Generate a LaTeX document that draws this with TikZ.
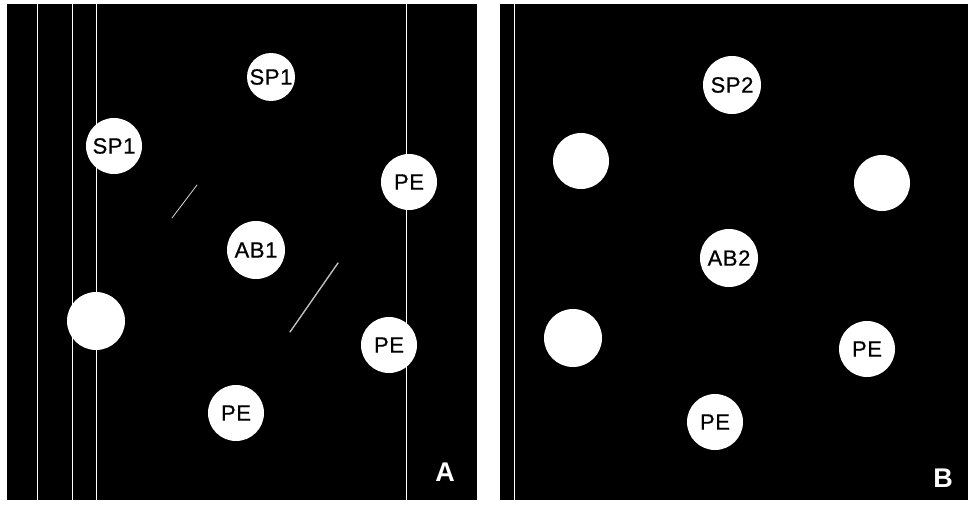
\documentclass[tikz,border=0pt]{standalone}
\usepackage{fontspec}
\setmainfont{Liberation Sans}
\newfontfamily\wellfont[FakeBold=0.6]{Liberation Sans}
% slight tracking for the well labels
\newcommand{\lsp}{\kern0.6pt}
\begin{document}
\begin{tikzpicture}[x=1pt,y=-1pt,
  well/.style={circle,fill=white,draw=none,inner sep=0pt,minimum size=#1,
    font=\wellfont\fontsize{22}{22}\selectfont,text=black},
  well/.default=56pt,
  tag/.style={font=\bfseries\fontsize{27}{27}\selectfont,text=white},
  scratch/.style={white,line width=0.6pt},
  streak/.style={gray!50,line width=1.4pt,line cap=round}]
  % page
  \fill[white] (0,0) rectangle (968,505);
  \useasboundingbox (0,0) rectangle (968,505);
  % plates
  \fill[black] (7,4) rectangle (477,500);
  \fill[black] (500,4) rectangle (968,500);
  % scratches on the film
  \foreach \xx in {37,72,96,406} \draw[scratch] (\xx,4) -- (\xx,500);
  \draw[scratch] (514,4) -- (514,500);
  % faint precipitin streaks
  \draw[streak] (290,332) -- (338,263);
  \draw[gray!30,line width=0.8pt,line cap=round] (172,218) -- (197,185);
  % plate A wells
  \node[well=48pt] (a1) at (271,77) {S\lsp P\lsp 1};
  \node[well] (a2) at (114,146) {S\lsp P\lsp 1};
  \node[well] (a3) at (409,182) {P\lsp E};
  \node[well=58pt] (a4) at (256,250) {A\lsp B\lsp 1};
  \node[well=58pt] (a5) at (96,321) {};
  \node[well] (a6) at (389,345) {P\lsp E};
  \node[well] (a7) at (236,413) {P\lsp E};
  \node[tag] (la) at (445,472) {A};
  % plate B wells
  \node[well=58pt] (b1) at (732,85) {S\lsp P\lsp 2};
  \node[well] (b2) at (581,161) {};
  \node[well] (b3) at (882,183) {};
  \node[well=58pt] (b4) at (729,258) {A\lsp B\lsp 2};
  \node[well=58pt] (b5) at (573,338) {};
  \node[well] (b6) at (867,349) {P\lsp E};
  \node[well] (b7) at (715,422) {P\lsp E};
  \node[tag] (lb) at (943,478) {B};
\end{tikzpicture}
\end{document}
